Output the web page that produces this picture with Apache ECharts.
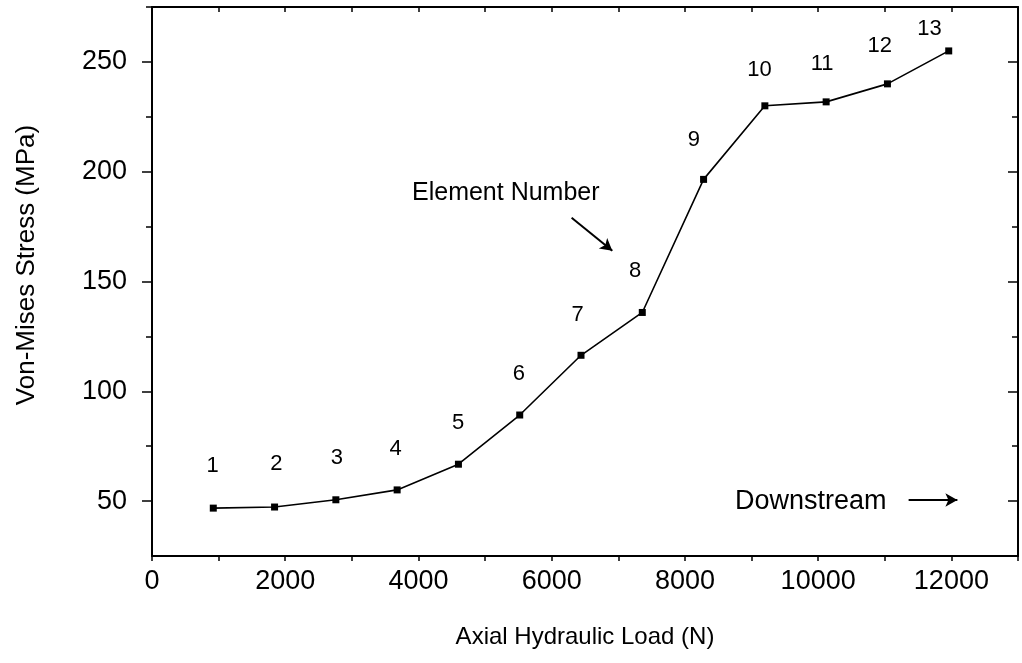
<!DOCTYPE html>
<html>
<head>
<meta charset="utf-8">
<script src="https://cdn.jsdelivr.net/npm/echarts@6/dist/echarts.min.js"></script>
<style>
  html, body { margin: 0; padding: 0; background: #fff; }
  #chart { width: 1022px; height: 663px; }
</style>
</head>
<body>
<div id="chart"></div>
<script>
// load (N) and stress (MPa) for each element
var loads = [920, 1840, 2760, 3680, 4600, 5520, 6440, 7360, 8280, 9200, 10120, 11040, 11960];
var stress = [46.8, 47.3, 50.6, 55.1, 66.8, 89.2, 116.4, 135.9, 196.5, 230, 231.8, 240, 255];
var elementNames = ["1", "2", "3", "4", "5", "6", "7", "8", "9", "10", "11", "12", "13"];
// where the element numbers sit
var nameX = [910, 1866, 2776, 3657, 4597, 5507, 6388, 7254, 8134, 9119, 10060, 10925, 11672];
var nameY = [65.9, 66.8, 69.5, 73.6, 85.5, 107.7, 135, 155, 214.5, 246.4, 249, 257.3, 265];
// y ticks
var yMajor = [50, 100, 150, 200, 250];
var yMinor = [75, 125, 175, 225, 275];

var font = "'Liberation Sans', Arial, sans-serif";

var lineData = loads.map(function (x, i) {
  return [x, stress[i]];
});
var nameData = nameX.map(function (x, i) {
  return { value: [x, nameY[i]], name: elementNames[i] };
});

var chart = echarts.init(document.getElementById("chart"));
var axisLine = { show: true, lineStyle: { color: "#000", width: 2 } };
var tickStyle = { color: "#000", width: 1.5 };

function xAxisPart(pos, showLabel) {
  return {
    type: "value",
    position: pos,
    min: 0,
    max: 13000,
    interval: 1000,
    axisLine: axisLine,
    axisTick: { inside: pos === "top", length: 5, lineStyle: tickStyle },
    axisLabel: {
      show: showLabel,
      fontFamily: font,
      fontSize: 27,
      color: "#000",
      margin: 12,
      formatter: function (v) {
        return v % 2000 === 0 ? String(v) : "";
      },
    },
    splitLine: { show: false },
  };
}

function yAxisPart(pos, values, len, showLabel, line) {
  return {
    type: "value",
    position: pos,
    min: 25,
    max: 275,
    axisLine: line ? axisLine : { show: false },
    axisTick: { inside: pos === "right", length: len, customValues: values, lineStyle: tickStyle },
    axisLabel: {
      show: showLabel,
      customValues: values,
      fontFamily: font,
      fontSize: 27,
      color: "#000",
      margin: 25,
    },
    splitLine: { show: false },
  };
}

var option = {
  animation: false,
  grid: { left: 152, right: 4, top: 7, bottom: 107 },
  xAxis: [xAxisPart("bottom", true), xAxisPart("top", false)],
  yAxis: [
    yAxisPart("left", yMajor, 10, true, true),
    yAxisPart("left", yMinor, 6, false, false),
    yAxisPart("right", yMajor, 10, false, true),
    yAxisPart("right", yMinor, 6, false, false),
  ],
  graphic: [
    {
      type: "text",
      x: 27,
      y: 265,
      rotation: Math.PI / 2,
      style: {
        text: "Von-Mises Stress (MPa)",
        fontFamily: font,
        fontSize: 26,
        fill: "#000",
        align: "center",
        verticalAlign: "middle",
      },
    },
    {
      type: "text",
      x: 585,
      y: 637,
      style: {
        text: "Axial Hydraulic Load (N)",
        fontFamily: font,
        fontSize: 24,
        fill: "#000",
        align: "center",
        verticalAlign: "middle",
      },
    },
    {
      type: "text",
      x: 412,
      y: 193,
      style: { text: "Element Number", fontFamily: font, fontSize: 25, fill: "#000", verticalAlign: "middle" },
    },
    {
      type: "text",
      x: 735,
      y: 502,
      style: { text: "Downstream", fontFamily: font, fontSize: 27, fill: "#000", verticalAlign: "middle" },
    },
  ],
  series: [
    {
      type: "line",
      data: lineData,
      symbol: "rect",
      symbolSize: 7,
      itemStyle: { color: "#000" },
      lineStyle: { color: "#000", width: 1.6 },
      markLine: {
        silent: true,
        symbol: ["none", "arrow"],
        symbolSize: [10, 12],
        label: { show: false },
        lineStyle: { color: "#000", width: 2, type: "solid" },
        data: [
          [{ coord: [6299, 179] }, { coord: [6910, 164] }],
          [{ coord: [11358, 50.5] }, { coord: [12090, 50.5] }],
        ],
      },
    },
    {
      type: "scatter",
      data: nameData,
      symbolSize: 1,
      itemStyle: { color: "transparent", opacity: 1 },
      label: {
        show: true,
        position: "inside",
        formatter: "{b}",
        fontFamily: font,
        fontSize: 22,
        color: "#000",
        textBorderWidth: 0,
      },
    },
  ],
};
chart.setOption(option);
</script>
</body>
</html>
